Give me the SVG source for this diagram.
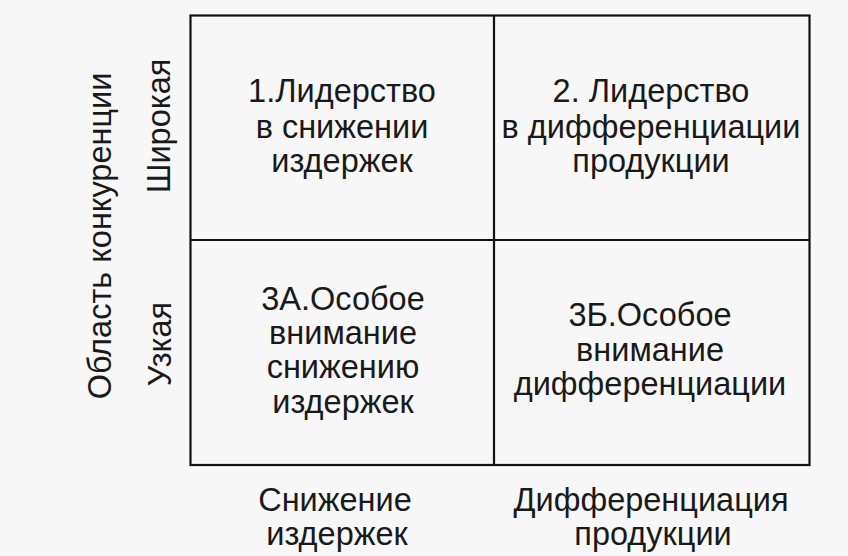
<svg xmlns="http://www.w3.org/2000/svg" width="848" height="556" viewBox="0 0 848 556">
<style>
text{font-family:"Liberation Sans",Arial,sans-serif;font-size:32.5px;fill:#1a1a1a;text-anchor:middle}
.ln{stroke:#111;stroke-width:2.2;fill:none}
</style>
<rect width="848" height="556" fill="#f7f7f7"/>
<g id="grid">
<rect class="ln" x="190.5" y="15.5" width="619" height="449.5" fill="#f9f9f9"/>
<line class="ln" x1="494" y1="15.5" x2="494" y2="465"/>
<line class="ln" x1="190.5" y1="240" x2="809.5" y2="240"/>
</g>
<g id="cell1"><text><tspan x="342" y="102">1.Лидерство</tspan><tspan x="342" y="138">в снижении</tspan><tspan x="342" y="172">издержек</tspan></text></g>
<g id="cell2"><text><tspan x="651" y="102">2. Лидерство</tspan><tspan x="651" y="137.5">в дифференциации</tspan><tspan x="651" y="171.5">продукции</tspan></text></g>
<g id="cell3a"><text><tspan x="343" y="310">3А.Особое</tspan><tspan x="343" y="344">внимание</tspan><tspan x="343" y="378">снижению</tspan><tspan x="343" y="413">издержек</tspan></text></g>
<g id="cell3b"><text><tspan x="650" y="326">3Б.Особое</tspan><tspan x="650" y="360.5">внимание</tspan><tspan x="650" y="395">дифференциации</tspan></text></g>
<g id="xlabel1"><text><tspan x="335" y="511">Снижение</tspan><tspan x="337" y="545">издержек</tspan></text></g>
<g id="xlabel2"><text><tspan x="651" y="511">Дифференциация</tspan><tspan x="653" y="545">продукции</tspan></text></g>
<g id="ylabels">
<text transform="translate(111,236) rotate(-90)">Область конкуренции</text>
<text transform="translate(170,126) rotate(-90)">Широкая</text>
<text transform="translate(171,344) rotate(-90)">Узкая</text>
</g>
</svg>
